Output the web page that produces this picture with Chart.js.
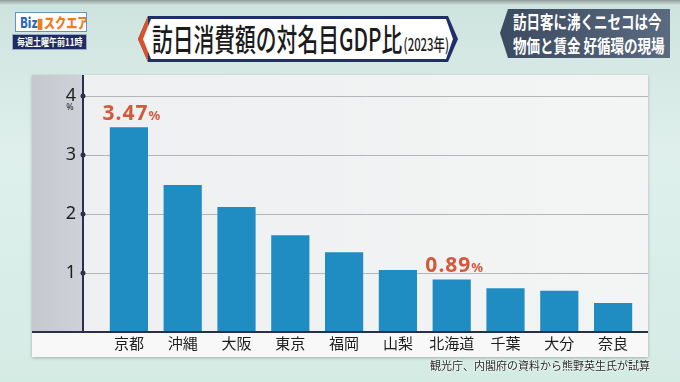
<!DOCTYPE html>
<html lang="ja">
<head>
    <meta charset="UTF-8">
    <title>訪日消費額の対名目GDP比</title>
    <script src="https://cdn.jsdelivr.net/npm/chart.js"></script>
    <style>
        body {
            margin: 0;
            width: 680px;
            height: 382px;
            overflow: hidden;
            position: relative;
            font-family: "Noto Sans CJK JP", "Noto Sans", sans-serif;
            background: linear-gradient(180deg, #8e9a98 0px, #cfe3de 5px, #dff0ec 40%, #d4ebe4 100%);
        }
        .logo {
            position: absolute;
            left: 15px; top: 12px;
            width: 70px; height: 18px;
            background: #fff;
            border: 1px solid #6b8fc4;
            overflow: hidden;
        }
        .logo span.inner {
            position: absolute;
            left: 4px; top: 0;
            white-space: nowrap;
            font-weight: 900;
            font-size: 14px;
            line-height: 18px;
            transform-origin: 0 0;
            transform: scaleX(0.8);
        }
        .logo .b { color: #2b66b8; }
        .logo .s { color: #ef7d1e; }
        .weekly {
            position: absolute;
            left: 12px; top: 34px;
            width: 73px; height: 14px;
            background: #1f2c63;
            border: 1px solid #9aa7c8;
            overflow: hidden;
        }
        .weekly span {
            position: absolute;
            left: 4px; top: 0;
            white-space: nowrap;
            color: #fff;
            font-size: 10px;
            line-height: 14px;
            font-weight: bold;
            transform-origin: 0 0;
            transform: scaleX(0.8);
        }
        .title {
            position: absolute;
            left: 138px; top: 16px;
            width: 320px; height: 46px;
            background: #1f2f6a;
            clip-path: polygon(10px 0, 310px 0, 320px 23px, 310px 46px, 10px 46px, 0 23px);
        }
        .title-red {
            position: absolute;
            left: 138px; top: 16px;
            width: 10px; height: 46px;
            background: #d8532c;
            clip-path: polygon(10px 0, 10px 46px, 0 23px);
        }
        .title-inner {
            position: absolute;
            left: 143px; top: 19px;
            width: 310px; height: 40px;
            background: #fff;
            clip-path: polygon(8px 0, 303px 0, 310px 20px, 303px 40px, 8px 40px, 0 20px);
        }
        .title-text {
            position: absolute;
            left: 152px; top: 17px;
            white-space: nowrap;
            transform-origin: 0 0;
            transform: scaleX(0.67);
            color: #1b1b1b;
            font-size: 31px;
            line-height: 42px;
            font-weight: 500;
        }
        .title-text small {
            font-size: 17px;
            margin-left: 2px;
        }
        .side {
            position: absolute;
            left: 500px; top: 9px;
            width: 170px; height: 49px;
            background: linear-gradient(90deg, #3b4a5f, #5a6a80);
            clip-path: polygon(8px 0, 170px 0, 170px 49px, 8px 49px, 0 24px);
        }
        .side-text {
            position: absolute;
            left: 513px; top: 9px;
            width: 200px;
            transform-origin: 0 0;
            transform: scaleX(0.75);
            color: #fff;
            font-size: 18px;
            line-height: 24px;
            font-weight: bold;
            white-space: nowrap;
        }
        #chart-box {
            position: absolute;
            left: 32px; top: 75px;
            width: 616px; height: 282px;
            box-shadow: 0 1px 3px rgba(0,0,0,0.25);
        }
        .source {
            position: absolute;
            right: 30px; top: 357px;
            font-size: 11px;
            color: #2a2a2a;
            text-shadow: 0 0 2px #fff, 0 0 2px #fff;
        }
    </style>
</head>
<body>
    <div class="logo"><span class="inner"><span class="b">Biz</span><span class="s">▮スクエア</span></span></div>
    <div class="weekly"><span>毎週土曜午前11時</span></div>

    <div class="title"></div>
    <div class="title-red"></div>
    <div class="title-inner"></div>
    <div class="title-text">訪日消費額の対名目GDP比<small>(2023年)</small></div>

    <div class="side"></div>
    <div class="side-text">訪日客に沸くニセコは今<br>物価と賃金&nbsp;好循環の現場</div>

    <div id="chart-box">
        <canvas id="chart" width="616" height="282"></canvas>
    </div>
    <div class="source">観光庁、内閣府の資料から熊野英生氏が試算</div>

    <script>
        // データ
        const prefectures = ['京都', '沖縄', '大阪', '東京', '福岡', '山梨', '北海道', '千葉', '大分', '奈良'];
        const gdpShare = [3.47, 2.49, 2.12, 1.64, 1.35, 1.05, 0.89, 0.74, 0.70, 0.49];
        const yTicks = [1, 2, 3, 4];
        const highlighted = [0, 6]; // 数値を表示する棒

        const AXIS_X = 51;   // 縦軸の位置 (キャンバス座標)

        // 背景・軸・目盛り・数値ラベルを描く
        const panelPlugin = {
            id: 'panel',
            beforeDraw(chart) {
                const ctx = chart.ctx;
                const y = chart.scales.y;
                const base = y.getPixelForValue(0);
                const w = chart.width, h = chart.height;
                ctx.save();
                // 白いパネル
                let g = ctx.createLinearGradient(0, 0, w, 0);
                g.addColorStop(0, '#eeeff0');
                g.addColorStop(1, '#f3f4f4');
                ctx.fillStyle = g;
                ctx.fillRect(0, 0, w, h);
                // 左のグレー帯
                g = ctx.createLinearGradient(0, 0, AXIS_X, 0);
                g.addColorStop(0, '#c6c8d0');
                g.addColorStop(1, '#cfd1d8');
                ctx.fillStyle = g;
                ctx.fillRect(0, 0, AXIS_X, base);
                // 下の白帯
                ctx.fillStyle = '#f8f8f8';
                ctx.fillRect(0, base, w, h - base);
                // 横グリッド線
                ctx.strokeStyle = '#b4b6b8';
                ctx.lineWidth = 1;
                yTicks.forEach(v => {
                    const py = Math.round(y.getPixelForValue(v)) + 0.5;
                    ctx.beginPath();
                    ctx.moveTo(AXIS_X, py);
                    ctx.lineTo(w, py);
                    ctx.stroke();
                });
                ctx.restore();
            },
            afterDatasetsDraw(chart) {
                const ctx = chart.ctx;
                const y = chart.scales.y;
                const base = y.getPixelForValue(0);
                ctx.save();
                // 軸線
                ctx.strokeStyle = '#28304c';
                ctx.lineWidth = 2;
                ctx.beginPath();
                ctx.moveTo(AXIS_X, 0);
                ctx.lineTo(AXIS_X, base);
                ctx.moveTo(0, base);
                ctx.lineTo(chart.width, base);
                ctx.stroke();
                // 目盛りの点
                ctx.fillStyle = '#28304c';
                yTicks.forEach(v => {
                    ctx.beginPath();
                    ctx.arc(AXIS_X, y.getPixelForValue(v), 2.5, 0, Math.PI * 2);
                    ctx.fill();
                });
                // %
                ctx.fillStyle = '#222';
                ctx.font = '9px "Noto Sans"';
                ctx.textAlign = 'center';
                ctx.fillText('%', 38, y.getPixelForValue(4) + 14);

                // 数値ラベル
                const meta = chart.getDatasetMeta(0);
                highlighted.forEach(i => {
                    const bar = meta.data[i];
                    const num = gdpShare[i].toFixed(2);
                    ctx.letterSpacing = '1px';
                    ctx.font = 'bold 21px "Noto Sans"';
                    const nw = ctx.measureText(num).width;
                    ctx.font = 'bold 13px "Noto Sans"';
                    const pw = ctx.measureText('%').width;
                    const left = bar.x - (nw + pw) / 2 + 3;
                    const by = bar.y - 7;
                    ctx.fillStyle = '#d4583a';
                    ctx.textAlign = 'left';
                    ctx.textBaseline = 'alphabetic';
                    ctx.font = 'bold 21px "Noto Sans"';
                    ctx.fillText(num, left, by);
                    ctx.font = 'bold 13px "Noto Sans"';
                    ctx.fillText('%', left + nw, by);
                });
                ctx.restore();
            }
        };

        new Chart(document.getElementById('chart'), {
            type: 'bar',
            data: {
                labels: prefectures,
                datasets: [{
                    data: gdpShare,
                    backgroundColor: '#1f8dc2',
                    categoryPercentage: 1.0,
                    barPercentage: 0.71
                }]
            },
            options: {
                responsive: false,
                animation: false,
                layout: { padding: { top: 21, right: 8, left: 0, bottom: 0 } },
                plugins: {
                    legend: { display: false },
                    tooltip: { enabled: false }
                },
                scales: {
                    x: {
                        grid: { display: false, drawTicks: false },
                        border: { display: false },
                        ticks: {
                            color: '#1e1e1e',
                            font: { size: 15, family: '"Noto Sans CJK JP"' },
                            padding: 2
                        },
                        afterFit(scale) {
                            scale.height = 25;
                            scale.paddingLeft = 0;
                            scale.paddingRight = 0;
                        }
                    },
                    y: {
                        min: 0,
                        max: 4,
                        grid: { display: false, drawTicks: false },
                        border: { display: false },
                        ticks: {
                            stepSize: 1,
                            color: '#1e1e1e',
                            font: { size: 18, family: '"Noto Sans"' },
                            padding: 26,
                            callback: v => (yTicks.includes(v) ? v : '')
                        },
                        afterFit(scale) {
                            scale.width = 70;
                            scale.paddingTop = 0;
                            scale.paddingBottom = 0;
                        }
                    }
                }
            },
            plugins: [panelPlugin]
        });
    </script>
</body>
</html>
